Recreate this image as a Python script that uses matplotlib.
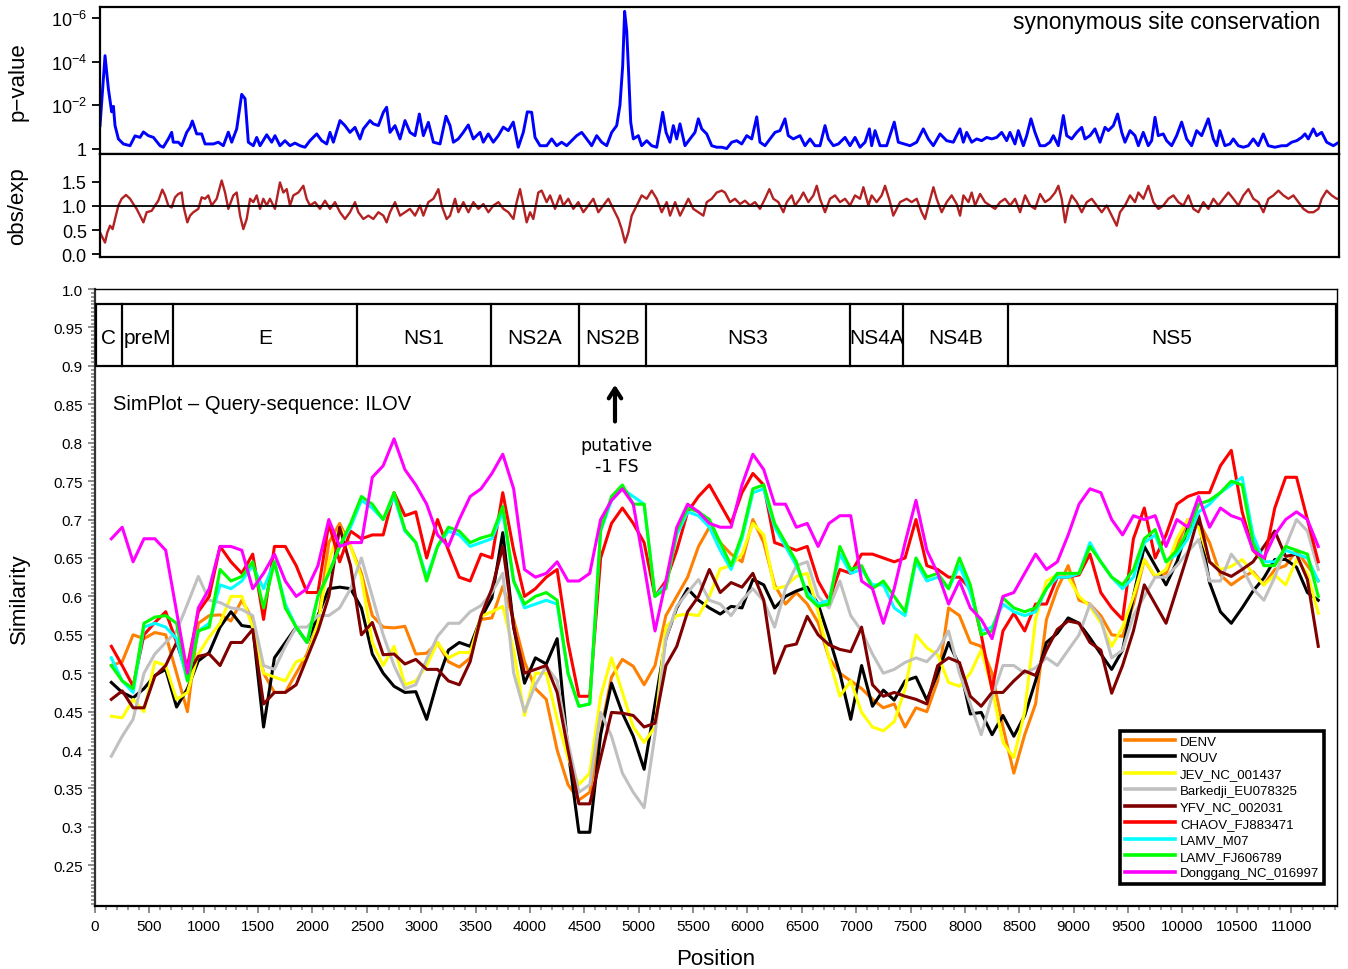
import numpy as np
import matplotlib
matplotlib.use("Agg")
import matplotlib.pyplot as plt
from matplotlib.patches import Rectangle
from matplotlib.ticker import MultipleLocator

plt.rcParams['font.family'] = ['Liberation Sans', 'DejaVu Sans']
plt.rcParams['mathtext.fontset'] = 'custom'
plt.rcParams['mathtext.rm'] = 'Liberation Sans'
plt.rcParams['mathtext.it'] = 'Liberation Sans:italic'

# ---- synonymous site conservation: -log10(p) along the genome ----
pv_pos = [46, 92, 123, 153, 169, 184, 215, 261, 322, 368, 414, 445, 490, 537, 598, 628, 674, 705, 720, 766,
          797, 843, 874, 895, 935, 981, 1012, 1088, 1134, 1180, 1226, 1257, 1303, 1349, 1380, 1410, 1456, 1487,
          1518, 1579, 1625, 1655, 1701, 1747, 1793, 1839, 1885, 1931, 1977, 2039, 2085, 2131, 2161, 2192, 2253,
          2299, 2345, 2391, 2437, 2468, 2529, 2560, 2606, 2652, 2682, 2713, 2759, 2805, 2851, 2897, 2943, 2983,
          3020, 3066, 3112, 3173, 3228, 3265, 3296, 3341, 3387, 3433, 3479, 3541, 3571, 3617, 3663, 3709, 3755,
          3801, 3847, 3893, 3939, 3976, 4016, 4047, 4093, 4154, 4200, 4246, 4292, 4338, 4384, 4430, 4476, 4522,
          4568, 4614, 4660, 4706, 4752, 4798, 4828, 4853, 4871, 4890, 4905, 4927, 4951, 4997, 5028, 5074, 5120,
          5166, 5196, 5221, 5252, 5288, 5319, 5350, 5380, 5426, 5472, 5518, 5549, 5580, 5626, 5672, 5718, 5764,
          5810, 5856, 5902, 5948, 5994, 6040, 6086, 6116, 6162, 6208, 6254, 6300, 6346, 6376, 6422, 6484, 6530,
          6576, 6622, 6668, 6714, 6745, 6791, 6837, 6898, 6944, 6990, 7036, 7082, 7122, 7143, 7174, 7220, 7281,
          7351, 7388, 7496, 7557, 7618, 7664, 7710, 7772, 7833, 7894, 7955, 7986, 8017, 8063, 8109, 8155, 8201,
          8247, 8293, 8339, 8385, 8415, 8461, 8492, 8538, 8569, 8608, 8645, 8691, 8737, 8783, 8814, 8860, 8906,
          8937, 8983, 9029, 9075, 9105, 9151, 9197, 9243, 9289, 9320, 9366, 9405, 9443, 9473, 9519, 9565, 9596,
          9641, 9687, 9718, 9749, 9779, 9825, 9856, 9902, 9948, 9994, 10040, 10086, 10132, 10178, 10239, 10285,
          10316, 10346, 10392, 10438, 10469, 10515, 10561, 10607, 10653, 10699, 10745, 10791, 10852, 10914,
          10960, 11006, 11052, 11098, 11128, 11159, 11205, 11236, 11282, 11328, 11389, 11441]
pv_val = [1.07, 4.27, 2.75, 1.7, 1.95, 1.07, 0.46, 0.23, 0.15, 0.6, 0.53, 0.78, 0.61, 0.53, 0.15, 0.08, 0.46, 0.76, 0.31, 0.31,
          0.15, 0.76, 0.99, 1.28, 0.69, 0.69, 0.23, 0.23, 0.31, 0.15, 0.77, 0.31, 0.92, 2.5, 2.3, 0.31, 0.15, 0.53,
          0.15, 0.65, 0.31, 0.61, 0.15, 0.38, 0.15, 0.27, 0.15, 0.08, 0.38, 0.69, 0.38, 0.23, 0.76, 0.31, 1.3,
          1.07, 0.76, 0.99, 0.46, 0.92, 1.3, 1.15, 1.07, 1.68, 1.91, 0.76, 1.07, 0.46, 1.3, 0.76, 0.61, 1.6,
          0.61, 1.22, 0.31, 0.23, 1.5, 1.07, 0.31, 0.46, 0.76, 1.1, 0.46, 0.76, 0.31, 0.69, 0.31, 0.61, 1.0,
          0.84, 1.23, 0.08, 0.76, 1.7, 1.68, 0.53, 0.15, 0.15, 0.46, 0.15, 0.31, 0.15, 0.38, 0.61, 0.76, 0.46,
          0.15, 0.61, 0.31, 0.15, 0.76, 1.07, 2.0, 3.8, 6.3, 5.4, 3.8, 1.22, 0.46, 0.61, 0.15, 0.38, 0.15,
          0.08, 0.92, 1.68, 0.76, 0.31, 1.07, 0.46, 1.15, 0.15, 0.46, 0.76, 1.38, 0.92, 0.69, 0.15, 0.08, 0.08,
          0.02, 0.31, 0.38, 0.23, 0.61, 0.46, 1.47, 0.31, 0.15, 0.46, 0.76, 0.84, 1.38, 0.61, 0.46, 0.61, 0.15,
          0.46, 0.15, 0.15, 1.07, 0.46, 0.15, 0.23, 0.53, 0.15, 0.53, 0.08, 0.31, 0.92, 0.15, 0.84, 0.15, 0.15,
          1.23, 0.31, 0.15, 0.31, 0.92, 0.46, 0.15, 0.69, 0.38, 0.31, 0.92, 0.31, 0.76, 0.31, 0.46, 0.38, 0.53,
          0.46, 0.53, 0.76, 0.38, 0.76, 0.23, 0.84, 0.15, 0.61, 1.38, 0.76, 0.15, 0.15, 0.31, 0.61, 0.15, 1.53,
          0.61, 0.46, 0.76, 0.99, 0.46, 0.61, 0.92, 0.31, 0.99, 0.84, 1.07, 1.6, 0.76, 0.31, 0.84, 0.61, 0.15,
          0.76, 0.15, 0.38, 1.45, 0.61, 0.69, 0.38, 0.15, 0.61, 1.23, 0.46, 0.15, 0.84, 0.61, 1.38, 0.46,
          0.15, 0.84, 0.15, 0.23, 0.46, 0.15, 0.08, 0.15, 0.46, 0.15, 0.69, 0.15, 0.08, 0.15,
          0.15, 0.31, 0.38, 0.53, 0.69, 0.46, 0.92, 0.61, 0.76, 0.31, 0.15, 0.31]

# ---- observed / expected synonymous substitutions ----
oe_pos = [46, 61, 92, 113, 138, 162, 184, 215, 245, 285, 322, 353, 383, 414, 445, 475, 521, 552, 582, 619,
          644, 674, 705, 736, 766, 797, 812, 849, 874, 904, 950, 981, 1012, 1042, 1073, 1119, 1165, 1196, 1226,
          1272, 1303, 1334, 1364, 1395, 1426, 1456, 1487, 1518, 1548, 1579, 1609, 1655, 1701, 1732, 1763, 1793,
          1824, 1870, 1916, 1946, 1977, 2023, 2069, 2115, 2161, 2207, 2253, 2299, 2345, 2391, 2422, 2468, 2514,
          2560, 2606, 2652, 2682, 2713, 2759, 2805, 2851, 2897, 2943, 2989, 3020, 3066, 3112, 3158, 3188, 3234,
          3265, 3311, 3342, 3388, 3434, 3480, 3526, 3572, 3618, 3664, 3710, 3756, 3802, 3848, 3878, 3909, 3939,
          3970, 4001, 4031, 4077, 4108, 4154, 4185, 4231, 4277, 4307, 4353, 4399, 4445, 4491, 4537, 4583, 4629,
          4675, 4721, 4767, 4813, 4844, 4875, 4905, 4936, 4982, 5028, 5074, 5120, 5166, 5212, 5258, 5289, 5335,
          5381, 5427, 5457, 5503, 5549, 5595, 5626, 5672, 5718, 5764, 5794, 5840, 5886, 5932, 5978, 6024, 6070,
          6116, 6162, 6202, 6239, 6285, 6331, 6362, 6408, 6438, 6484, 6515, 6561, 6607, 6638, 6668, 6714, 6760,
          6806, 6852, 6898, 6944, 6990, 7036, 7067, 7113, 7143, 7189, 7235, 7266, 7312, 7342, 7388, 7404, 7465,
          7511, 7557, 7603, 7634, 7665, 7711, 7741, 7787, 7833, 7879, 7925, 7956, 7987, 8033, 8063, 8094, 8140,
          8186, 8232, 8278, 8324, 8370, 8416, 8462, 8508, 8554, 8600, 8646, 8692, 8738, 8784, 8830, 8860, 8891,
          8922, 8952, 8983, 9029, 9075, 9121, 9167, 9213, 9259, 9305, 9351, 9397, 9427, 9473, 9519, 9565, 9596,
          9642, 9688, 9734, 9780, 9826, 9872, 9918, 9964, 10010, 10056, 10102, 10148, 10194, 10240, 10286, 10332,
          10378, 10424, 10470, 10516, 10562, 10608, 10654, 10700, 10746, 10792, 10838, 10884, 10930, 10976,
          11022, 11068, 11114, 11160, 11206, 11252, 11282, 11328, 11374, 11420, 11441]
oe_val = [0.45, 0.38, 0.24, 0.45, 0.59, 0.52, 0.73, 1.01, 1.15, 1.23, 1.15, 1.04, 0.94, 0.80, 0.66, 0.87, 0.90, 1.01, 1.11, 1.34,
          1.22, 1.01, 0.97, 1.18, 1.25, 1.28, 1.01, 0.66, 0.80, 0.87, 0.94, 1.18, 1.15, 1.22, 1.01, 1.15, 1.53, 1.28, 0.94,
          1.22, 1.28, 0.80, 0.52, 0.73, 1.15, 1.08, 1.22, 0.94, 1.15, 1.01, 1.15, 0.94, 1.49, 1.28, 1.35, 1.01,
          1.22, 1.28, 1.42, 1.15, 1.01, 1.08, 0.94, 1.11, 0.94, 1.08, 0.87, 0.73, 0.87, 1.08, 0.87, 0.73, 0.80,
          0.73, 0.87, 0.80, 0.66, 0.87, 1.08, 0.80, 0.87, 0.94, 0.80, 1.01, 0.80, 1.08, 1.15, 1.35, 1.01, 0.73,
          0.80, 1.15, 0.87, 1.08, 0.87, 1.08, 0.94, 1.04, 0.87, 1.01, 1.08, 0.94, 0.87, 0.73, 1.08, 1.35, 1.01,
          0.66, 0.87, 0.73, 1.28, 1.32, 1.08, 1.22, 0.94, 1.22, 1.01, 1.15, 0.94, 1.08, 0.87, 1.01, 1.15, 0.87,
          1.01, 1.15, 0.94, 0.73, 0.52, 0.24, 0.45, 0.80, 1.01, 1.22, 1.15, 1.32, 1.15, 0.87, 1.08, 0.80, 1.08,
          0.80, 1.01, 1.15, 0.94, 0.87, 0.80, 1.08, 1.15, 1.28, 1.32, 1.28, 1.08, 1.15, 1.04, 1.11, 1.01, 1.08,
          0.94, 1.15, 1.35, 1.15, 1.08, 0.87, 1.08, 1.22, 1.01, 1.15, 1.28, 1.08, 1.22, 1.42, 1.15, 0.87, 1.15,
          1.22, 1.08, 1.15, 1.01, 1.22, 1.15, 1.39, 1.01, 1.22, 1.08, 1.22, 1.42, 1.08, 0.80, 1.01, 1.08, 1.15,
          1.08, 1.15, 0.87, 0.73, 1.01, 1.39, 1.15, 0.87, 1.08, 1.22, 1.04, 0.80, 1.22, 1.08, 1.28, 1.01, 1.25,
          1.08, 1.01, 0.94, 1.08, 1.15, 1.01, 1.15, 0.87, 1.22, 1.01, 0.94, 1.25, 1.08, 1.15, 1.28, 1.42, 1.15,
          0.66, 1.01, 1.22, 1.08, 0.87, 1.08, 1.15, 1.01, 0.87, 1.01, 0.80, 0.59, 0.87, 1.01, 1.22, 1.08, 1.28,
          1.15, 1.42, 1.08, 0.94, 1.01, 1.15, 1.22, 1.08, 1.01, 1.22, 0.94, 0.87, 1.08, 0.94, 1.15, 1.01,
          1.15, 1.28, 1.15, 1.01, 1.22, 1.35, 1.15, 1.08, 0.87, 1.15, 1.22, 1.32, 1.22, 1.15,
          1.22, 1.08, 0.94, 0.87, 0.87, 0.94, 1.15, 1.32, 1.22, 1.15, 1.15]

# ---- SimPlot similarity (window centres every 100 nt) ----
sim_pos = np.arange(150, 11251, 100)

denv = [0.51, 0.515, 0.55, 0.545, 0.553, 0.55, 0.50, 0.45, 0.565, 0.575,
        0.576, 0.568, 0.595, 0.57, 0.50, 0.475, 0.475, 0.50, 0.525, 0.565,
        0.67, 0.695, 0.665, 0.63, 0.575, 0.56, 0.559, 0.561, 0.525, 0.526,
        0.54, 0.515, 0.508, 0.52, 0.57, 0.572, 0.613, 0.57, 0.515, 0.48,
        0.466, 0.40, 0.355, 0.335, 0.345, 0.423, 0.495, 0.518, 0.509, 0.485,
        0.51, 0.575, 0.60, 0.625, 0.665, 0.69, 0.67, 0.655, 0.645, 0.70,
        0.67, 0.615, 0.59, 0.605, 0.59, 0.566, 0.52, 0.50, 0.49, 0.48,
        0.466, 0.455, 0.46, 0.43, 0.455, 0.45, 0.49, 0.585, 0.575, 0.54,
        0.535, 0.50, 0.43, 0.37, 0.42, 0.46, 0.57, 0.61, 0.64, 0.595,
        0.59, 0.575, 0.55, 0.548, 0.59, 0.648, 0.625, 0.63, 0.665, 0.70,
        0.698, 0.67, 0.628, 0.615, 0.625, 0.632, 0.615, 0.635, 0.64, 0.66,
        0.64, 0.62]
nouv = [0.488, 0.475, 0.468, 0.48, 0.497, 0.505, 0.456, 0.48, 0.516, 0.527,
        0.56, 0.58, 0.562, 0.56, 0.43, 0.52, 0.54, 0.56, 0.54, 0.575,
        0.61, 0.612, 0.61, 0.585, 0.525, 0.50, 0.483, 0.475, 0.476, 0.44,
        0.49, 0.53, 0.54, 0.535, 0.572, 0.598, 0.683, 0.56, 0.487, 0.52,
        0.512, 0.545, 0.40, 0.293, 0.293, 0.42, 0.487, 0.448, 0.418, 0.375,
        0.46, 0.545, 0.585, 0.61, 0.595, 0.585, 0.577, 0.587, 0.585, 0.622,
        0.615, 0.585, 0.60, 0.607, 0.612, 0.59, 0.547, 0.50, 0.44, 0.51,
        0.457, 0.478, 0.465, 0.49, 0.495, 0.465, 0.50, 0.54, 0.51, 0.447,
        0.449, 0.42, 0.445, 0.418, 0.445, 0.49, 0.54, 0.552, 0.572, 0.565,
        0.546, 0.525, 0.505, 0.53, 0.60, 0.665, 0.64, 0.615, 0.645, 0.689,
        0.70, 0.618, 0.58, 0.565, 0.585, 0.607, 0.624, 0.648, 0.648, 0.638,
        0.605, 0.595]
jev = [0.444, 0.442, 0.466, 0.45, 0.515, 0.51, 0.466, 0.475, 0.525, 0.547,
       0.565, 0.60, 0.60, 0.56, 0.50, 0.495, 0.49, 0.515, 0.52, 0.565,
       0.645, 0.69, 0.665, 0.625, 0.54, 0.51, 0.535, 0.485, 0.49, 0.51,
       0.54, 0.52, 0.527, 0.527, 0.574, 0.58, 0.587, 0.53, 0.445, 0.50,
       0.50, 0.44, 0.39, 0.355, 0.37, 0.47, 0.52, 0.475, 0.43, 0.41,
       0.43, 0.56, 0.575, 0.577, 0.575, 0.60, 0.636, 0.64, 0.655, 0.695,
       0.68, 0.61, 0.613, 0.626, 0.63, 0.58, 0.52, 0.47, 0.49, 0.449,
       0.43, 0.425, 0.437, 0.48, 0.55, 0.533, 0.524, 0.488, 0.483, 0.50,
       0.53, 0.48, 0.41, 0.39, 0.45, 0.57, 0.62, 0.628, 0.625, 0.60,
       0.587, 0.566, 0.535, 0.56, 0.60, 0.648, 0.626, 0.635, 0.675, 0.70,
       0.69, 0.645, 0.635, 0.639, 0.648, 0.63, 0.615, 0.628, 0.615, 0.648,
       0.63, 0.578]
barkedji = [0.392, 0.418, 0.44, 0.50, 0.525, 0.54, 0.555, 0.59, 0.626, 0.595,
            0.592, 0.585, 0.583, 0.575, 0.51, 0.505, 0.535, 0.56, 0.56, 0.575,
            0.575, 0.585, 0.61, 0.65, 0.60, 0.55, 0.51, 0.48, 0.485, 0.518,
            0.548, 0.565, 0.565, 0.58, 0.588, 0.605, 0.63, 0.50, 0.45, 0.485,
            0.509, 0.49, 0.41, 0.345, 0.355, 0.449, 0.418, 0.37, 0.345, 0.325,
            0.42, 0.545, 0.587, 0.605, 0.622, 0.595, 0.59, 0.575, 0.595, 0.61,
            0.594, 0.56, 0.61, 0.64, 0.645, 0.60, 0.585, 0.62, 0.575, 0.555,
            0.525, 0.50, 0.505, 0.514, 0.52, 0.515, 0.53, 0.555, 0.50, 0.46,
            0.42, 0.47, 0.51, 0.51, 0.50, 0.507, 0.52, 0.51, 0.53, 0.55,
            0.59, 0.57, 0.52, 0.53, 0.575, 0.60, 0.625, 0.625, 0.64, 0.658,
            0.674, 0.62, 0.62, 0.655, 0.637, 0.61, 0.595, 0.625, 0.665, 0.70,
            0.685, 0.635]
yfv = [0.466, 0.477, 0.455, 0.455, 0.496, 0.51, 0.54, 0.498, 0.522, 0.525,
       0.51, 0.54, 0.54, 0.557, 0.46, 0.475, 0.475, 0.485, 0.52, 0.555,
       0.60, 0.69, 0.64, 0.55, 0.566, 0.524, 0.525, 0.512, 0.518, 0.505,
       0.505, 0.49, 0.485, 0.515, 0.575, 0.61, 0.665, 0.56, 0.50, 0.505,
       0.51, 0.475, 0.40, 0.33, 0.33, 0.39, 0.449, 0.448, 0.445, 0.43,
       0.435, 0.51, 0.535, 0.58, 0.60, 0.635, 0.605, 0.618, 0.612, 0.63,
       0.595, 0.50, 0.535, 0.538, 0.574, 0.55, 0.537, 0.531, 0.528, 0.56,
       0.485, 0.47, 0.475, 0.47, 0.466, 0.46, 0.51, 0.52, 0.514, 0.47,
       0.457, 0.475, 0.475, 0.49, 0.503, 0.497, 0.53, 0.557, 0.568, 0.565,
       0.54, 0.53, 0.474, 0.51, 0.555, 0.615, 0.59, 0.565, 0.61, 0.655,
       0.705, 0.645, 0.632, 0.626, 0.635, 0.645, 0.665, 0.685, 0.652, 0.655,
       0.622, 0.535]
chaov = [0.535, 0.51, 0.483, 0.55, 0.566, 0.58, 0.54, 0.51, 0.58, 0.60,
         0.665, 0.645, 0.63, 0.655, 0.57, 0.665, 0.665, 0.64, 0.605, 0.605,
         0.695, 0.645, 0.685, 0.675, 0.68, 0.68, 0.735, 0.705, 0.71, 0.65,
         0.70, 0.66, 0.625, 0.62, 0.655, 0.65, 0.735, 0.66, 0.60, 0.61,
         0.625, 0.635, 0.54, 0.47, 0.47, 0.65, 0.695, 0.715, 0.695, 0.67,
         0.60, 0.62, 0.66, 0.71, 0.73, 0.745, 0.72, 0.695, 0.735, 0.76,
         0.745, 0.67, 0.665, 0.66, 0.665, 0.62, 0.595, 0.635, 0.63, 0.655,
         0.655, 0.65, 0.645, 0.65, 0.70, 0.64, 0.635, 0.625, 0.625, 0.61,
         0.55, 0.478, 0.555, 0.578, 0.555, 0.59, 0.59, 0.625, 0.625, 0.628,
         0.655, 0.605, 0.585, 0.57, 0.675, 0.715, 0.65, 0.68, 0.72, 0.73,
         0.735, 0.735, 0.77, 0.79, 0.71, 0.66, 0.645, 0.715, 0.755, 0.755,
         0.70, 0.645]
lamv_m07 = [0.52, 0.49, 0.475, 0.56, 0.565, 0.56, 0.545, 0.49, 0.555, 0.565,
            0.615, 0.61, 0.62, 0.64, 0.61, 0.645, 0.59, 0.56, 0.54, 0.60,
            0.63, 0.665, 0.69, 0.725, 0.715, 0.70, 0.73, 0.685, 0.67, 0.625,
            0.665, 0.685, 0.68, 0.665, 0.67, 0.675, 0.71, 0.62, 0.585, 0.59,
            0.595, 0.59, 0.50, 0.457, 0.46, 0.685, 0.725, 0.74, 0.73, 0.72,
            0.60, 0.615, 0.68, 0.71, 0.705, 0.69, 0.66, 0.635, 0.675, 0.735,
            0.74, 0.69, 0.665, 0.64, 0.605, 0.59, 0.595, 0.655, 0.63, 0.635,
            0.615, 0.615, 0.585, 0.575, 0.645, 0.62, 0.625, 0.61, 0.64, 0.605,
            0.555, 0.56, 0.59, 0.58, 0.575, 0.58, 0.61, 0.625, 0.625, 0.63,
            0.67, 0.645, 0.625, 0.61, 0.625, 0.67, 0.68, 0.645, 0.655, 0.675,
            0.71, 0.72, 0.735, 0.745, 0.755, 0.68, 0.645, 0.645, 0.66, 0.655,
            0.65, 0.62]
lamv_fj = [0.51, 0.49, 0.48, 0.565, 0.573, 0.575, 0.565, 0.49, 0.555, 0.56,
           0.635, 0.62, 0.626, 0.645, 0.585, 0.645, 0.585, 0.56, 0.54, 0.60,
           0.63, 0.665, 0.695, 0.73, 0.72, 0.70, 0.735, 0.687, 0.67, 0.62,
           0.665, 0.69, 0.685, 0.67, 0.676, 0.68, 0.717, 0.62, 0.59, 0.60,
           0.605, 0.595, 0.50, 0.457, 0.46, 0.687, 0.73, 0.745, 0.72, 0.72,
           0.60, 0.61, 0.685, 0.715, 0.71, 0.70, 0.67, 0.64, 0.68, 0.74,
           0.745, 0.695, 0.67, 0.645, 0.60, 0.587, 0.59, 0.665, 0.635, 0.64,
           0.61, 0.62, 0.60, 0.58, 0.65, 0.625, 0.63, 0.61, 0.65, 0.615,
           0.55, 0.555, 0.598, 0.585, 0.58, 0.585, 0.61, 0.63, 0.63, 0.63,
           0.665, 0.645, 0.625, 0.615, 0.635, 0.675, 0.687, 0.645, 0.66, 0.685,
           0.72, 0.725, 0.735, 0.75, 0.745, 0.67, 0.64, 0.64, 0.665, 0.66,
           0.655, 0.60]
donggang = [0.675, 0.69, 0.645, 0.675, 0.675, 0.66, 0.58, 0.50, 0.585, 0.61,
            0.665, 0.665, 0.66, 0.61, 0.63, 0.655, 0.62, 0.60, 0.61, 0.64,
            0.70, 0.665, 0.67, 0.67, 0.755, 0.77, 0.805, 0.765, 0.745, 0.72,
            0.68, 0.665, 0.70, 0.73, 0.74, 0.76, 0.785, 0.74, 0.635, 0.625,
            0.63, 0.645, 0.62, 0.62, 0.63, 0.70, 0.725, 0.74, 0.72, 0.64,
            0.555, 0.62, 0.69, 0.72, 0.71, 0.695, 0.69, 0.69, 0.745, 0.785,
            0.765, 0.72, 0.72, 0.69, 0.695, 0.665, 0.695, 0.705, 0.705, 0.62,
            0.61, 0.565, 0.61, 0.67, 0.725, 0.66, 0.63, 0.59, 0.62, 0.585,
            0.57, 0.545, 0.60, 0.605, 0.63, 0.655, 0.635, 0.645, 0.68, 0.72,
            0.74, 0.735, 0.70, 0.68, 0.705, 0.70, 0.705, 0.665, 0.70, 0.69,
            0.73, 0.69, 0.715, 0.705, 0.70, 0.66, 0.65, 0.68, 0.70, 0.71,
            0.70, 0.665]

series = [denv, nouv, jev, barkedji, yfv, chaov, lamv_m07, lamv_fj, donggang]
labels = ['DENV', 'NOUV', 'JEV_NC_001437', 'Barkedji_EU078325', 'YFV_NC_002031',
          'CHAOV_FJ883471', 'LAMV_M07', 'LAMV_FJ606789', 'Donggang_NC_016997']
colors = ['#ff8000', '#000000', '#ffff00', '#c0c0c0', '#800000',
          '#ff0000', '#00ffff', '#00ff00', '#ff00ff']

# genome map
gene_names = ['C', 'preM', 'E', 'NS1', 'NS2A', 'NS2B', 'NS3', 'NS4A', 'NS4B', 'NS5']
gene_bounds = [10, 245, 715, 2412, 3642, 4451, 5068, 6944, 7431, 8397, 11414]

sim_ticks = [1.0, 0.95, 0.9, 0.85, 0.8, 0.75, 0.7, 0.65, 0.6, 0.55, 0.5, 0.45, 0.4, 0.35, 0.3, 0.25]
sim_ticklabels = ['1.0', '0.95', '0.9', '0.85', '0.8', '0.75', '0.7', '0.65', '0.6', '0.55',
                  '0.5', '0.45', '0.4', '0.35', '0.3', '0.25']

fig = plt.figure(figsize=(13.48, 9.70), dpi=100)
ax_p = fig.add_axes([0.0742, 0.8402, 0.9191, 0.1516])
ax_o = fig.add_axes([0.0742, 0.7340, 0.9191, 0.1062])
ax_s = fig.add_axes([0.0705, 0.0649, 0.9214, 0.6361])

# p-value panel
ax_p.plot(pv_pos, pv_val, color='#0000ff', lw=2.1)
ax_p.set_xlim(46, 11441)
ax_p.set_ylim(-0.23, 6.5)
ax_p.set_yticks([0, 2, 4, 6])
ax_p.set_yticklabels(['1', r'$10^{-2}$', r'$10^{-4}$', r'$10^{-6}$'], fontsize=13)
ax_p.set_xticks([])
ax_p.tick_params(axis='y', direction='out', length=6, width=1.3)
ax_p.set_ylabel('p\u2212value', fontsize=16)
ax_p.text(0.985, 0.90, 'synonymous site conservation', transform=ax_p.transAxes,
          ha='right', va='center', fontsize=16.5)
for s in ax_p.spines.values():
    s.set_linewidth(1.6)

# obs/exp panel
ax_o.plot(oe_pos, oe_val, color='#b22222', lw=1.7)
ax_o.axhline(1.0, color='black', lw=1.3)
ax_o.set_xlim(46, 11441)
ax_o.set_ylim(-0.06, 2.08)
ax_o.set_yticks([0.0, 0.5, 1.0, 1.5])
ax_o.set_yticklabels(['0.0', '0.5', '1.0', '1.5'], fontsize=13)
ax_o.set_xticks([])
ax_o.tick_params(axis='y', direction='out', length=6, width=1.3)
ax_o.set_ylabel('obs/exp', fontsize=16)
for s in ax_o.spines.values():
    s.set_linewidth(1.6)
ax_p.yaxis.set_label_coords(-0.058, 0.5)
ax_o.yaxis.set_label_coords(-0.058, 0.5)

# similarity panel
handles = []
for vals, lab, col in zip(series, labels, colors):
    h, = ax_s.plot(sim_pos, vals, color=col, lw=2.2, label=lab)
    handles.append(h)

ax_s.set_xlim(0, 11423)
ax_s.set_ylim(0.197, 1.0)
ax_s.set_yticks(sim_ticks)
ax_s.set_yticklabels(sim_ticklabels, fontsize=11)
ax_s.yaxis.set_minor_locator(MultipleLocator(0.005))
ax_s.set_xticks(range(0, 11001, 500))
ax_s.set_xticklabels([str(v) for v in range(0, 11001, 500)], fontsize=11)
ax_s.xaxis.set_minor_locator(MultipleLocator(100))
ax_s.tick_params(which='major', direction='out', length=5, width=1.4, color='#8c8c8c', pad=4)
ax_s.tick_params(which='minor', direction='out', length=3, width=1.4, color='#9a9a9a')
ax_s.set_ylabel('Similarity', fontsize=16)
ax_s.yaxis.set_label_coords(-0.052, 0.5)
ax_s.set_xlabel('Position', fontsize=16, labelpad=11)
ax_s.spines['left'].set_linewidth(1.6)
ax_s.spines['left'].set_color('#333333')
ax_s.spines['bottom'].set_linewidth(1.6)
ax_s.spines['top'].set_linewidth(1.0)
ax_s.spines['right'].set_linewidth(1.0)

# genome map box
ax_s.add_patch(Rectangle((gene_bounds[0], 0.9), gene_bounds[-1] - gene_bounds[0], 0.08,
                         fill=False, edgecolor='black', lw=1.6, zorder=3))
for b in gene_bounds[1:-1]:
    ax_s.plot([b, b], [0.9, 0.98], color='black', lw=1.6, zorder=3)
for i, name in enumerate(gene_names):
    cx = (gene_bounds[i] + gene_bounds[i + 1]) / 2
    ax_s.text(cx, 0.937, name, ha='center', va='center', fontsize=15, zorder=4)

ax_s.text(166, 0.851, 'SimPlot \u2013 Query-sequence: ILOV', ha='left', va='center', fontsize=14.5)

ax_s.annotate('', xy=(4782, 0.879), xytext=(4782, 0.824),
              arrowprops=dict(arrowstyle='->,head_length=0.7,head_width=0.45', lw=3, color='black'))
ax_s.text(4800, 0.783, 'putative\n-1 FS', ha='center', va='center', fontsize=12.5,
          family=['DejaVu Sans'], linespacing=1.2)

leg = ax_s.legend(handles=handles, loc='lower right', bbox_to_anchor=(0.9895, 0.036),
                  fontsize=9.5, frameon=True, fancybox=False, framealpha=1, edgecolor='black',
                  handlelength=3.8, handletextpad=0.4, labelspacing=0.32, borderpad=0.35,
                  borderaxespad=0)
leg.get_frame().set_linewidth(2.6)
for line in leg.get_lines():
    line.set_linewidth(2.6)

fig.savefig('out.png', dpi=100)
